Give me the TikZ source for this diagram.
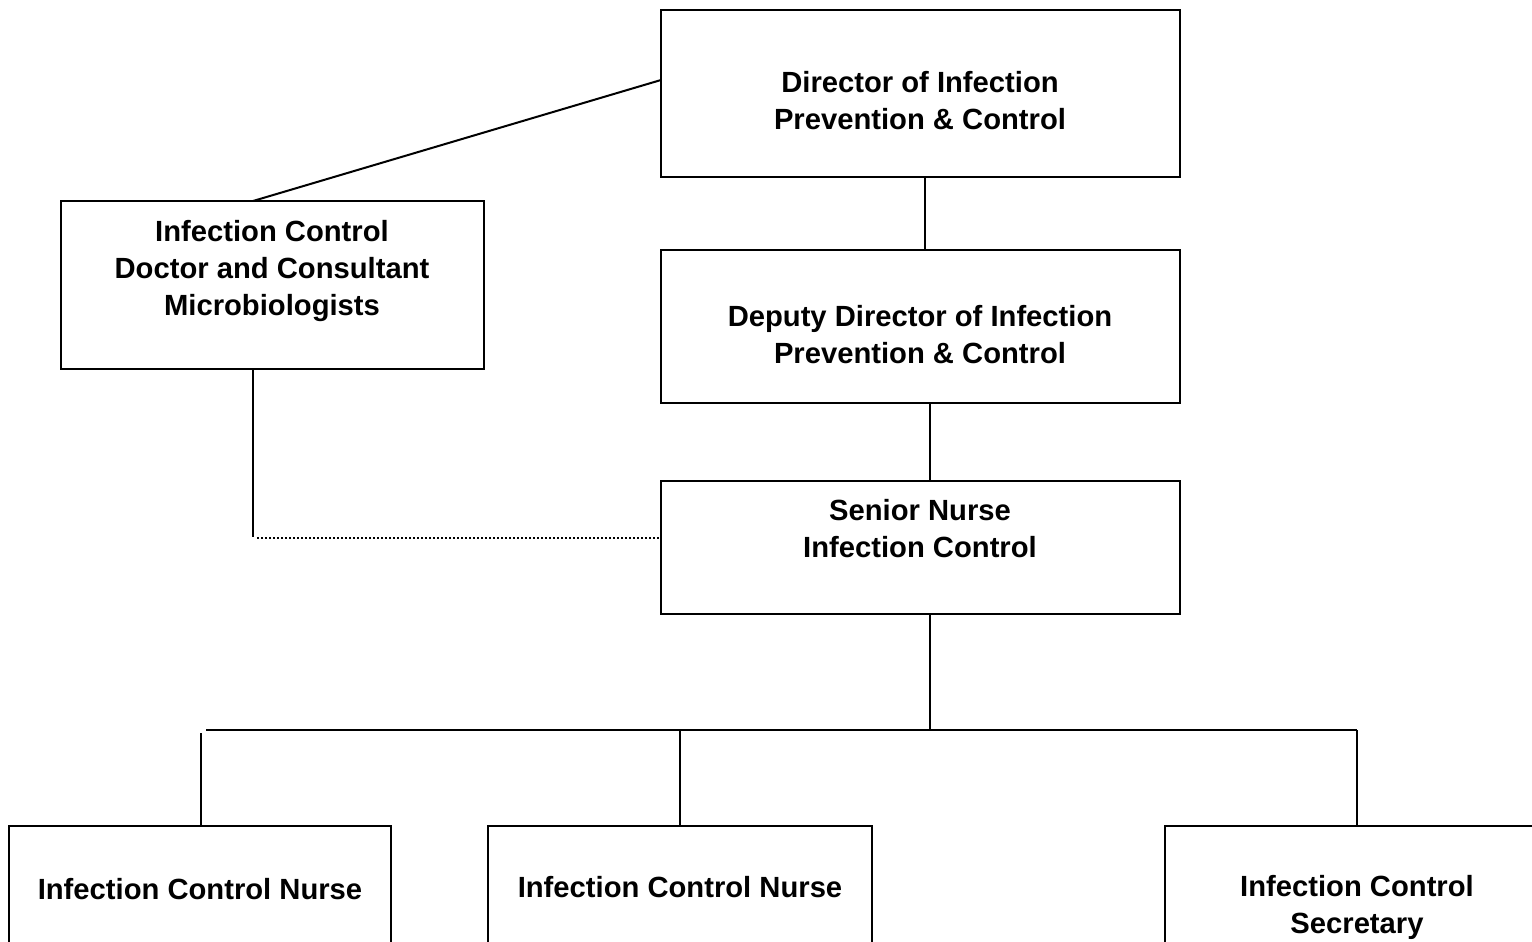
\documentclass[tikz,border=0pt]{standalone}
\usepackage{fontspec}
\setmainfont{Liberation Sans}
\begin{document}
\begin{tikzpicture}[x=0.5pt,y=-0.5pt,
  box/.style={draw,line width=1pt,inner sep=0pt},
  txt/.style={align=center,font=\bfseries\fontsize{14.6}{18.5}\selectfont,inner sep=0pt},
  conn/.style={line width=1pt},
  dotconn/.style={line width=1pt,densely dotted}]
\clip (0,0) rectangle (1532,942);
\fill[white] (0,0) rectangle (1532,942);
% boxes
\draw[box] (661,10) rectangle (1180,177);
\coordinate (dirL) at (661,80);
\coordinate (dirB) at (925,177);
\node[txt] (tdir) at (920,101) {Director of Infection\\Prevention \& Control};

\draw[box] (61,201) rectangle (484,369);
\coordinate (icdT) at (253,201);
\coordinate (icdB) at (253,369);
\node[txt] (ticd) at (272,271) {Infection Control\\Doctor and Consultant\\Microbiologists};

\draw[box] (661,250) rectangle (1180,403);
\coordinate (depT) at (925,250);
\coordinate (depB) at (930,403);
\node[txt] (tdep) at (920,335) {Deputy Director of Infection\\Prevention \& Control};

\draw[box] (661,481) rectangle (1180,614);
\coordinate (senT) at (930,481);
\coordinate (senB) at (930,614);
\coordinate (senL) at (661,538);
\node[txt] (tsen) at (920,529) {Senior Nurse\\Infection Control};

\draw[box] (9,826) rectangle (391,980);
\node[txt] (tn1) at (200,889) {Infection Control Nurse};
\draw[box] (488,826) rectangle (872,980);
\node[txt] (tn2) at (680,887) {Infection Control Nurse};
\draw[box] (1165,826) rectangle (1560,980);
\node[txt] (tsec) at (1357,907) {Infection Control\\Secretary};

% connectors
\draw[conn] (dirL) -- (icdT);
\draw[conn] (dirB) -- (depT);
\draw[conn] (depB) -- (senT);
\coordinate (icdCorner) at (253,537);
\draw[conn] (icdB) -- (icdCorner);
\coordinate (dotStart) at (257,538);
\draw[dotconn] (dotStart) -- (senL);
\coordinate (bus) at (930,730);
\draw[conn] (senB) -- (bus);
\coordinate (busL) at (206,730);
\coordinate (busR) at (1357,730);
\draw[conn] (busL) -- (busR);
\coordinate (d1a) at (201,733);
\coordinate (d1b) at (201,826);
\draw[conn] (d1a) -- (d1b);
\coordinate (d2a) at (680,730);
\coordinate (d2b) at (680,826);
\draw[conn] (d2a) -- (d2b);
\coordinate (d3b) at (1357,826);
\draw[conn] (busR) -- (d3b);
\end{tikzpicture}
\end{document}
